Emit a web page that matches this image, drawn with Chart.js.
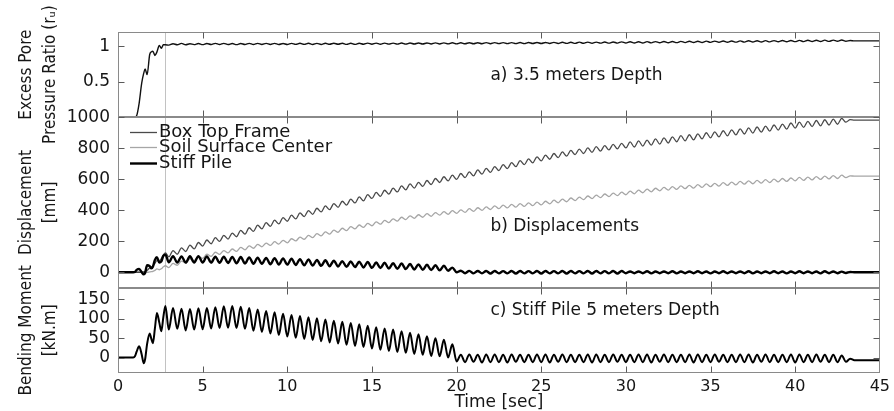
<!DOCTYPE html>
<html><head><meta charset="utf-8">
<script src="https://cdn.jsdelivr.net/npm/chart.js@4.4.1/dist/chart.umd.min.js"></script>
<style>html,body{margin:0;padding:0;background:#fff;}canvas{display:block;}</style>
</head><body>
<canvas id="c" width="894" height="411"></canvas>
<script>
// ---------- data ----------
const TIME = [
0,0.5,0.9,1,1.1,1.25,1.4,1.52,1.6,1.72,1.87,1.97,2.06,2.18,2.3,2.44,2.56,2.68,2.8,
3,3.25,3.5,3.75,4,4.25,4.5,4.75,5,5.25,5.5,5.75,6,6.25,6.5,6.75,7,7.25,7.5,7.75,
8,8.25,8.5,8.75,9,9.25,9.5,9.75,10,10.25,10.5,10.75,11,11.25,11.5,11.75,12,12.25,12.5,12.75,
13,13.25,13.5,13.75,14,14.25,14.5,14.75,15,15.25,15.5,15.75,16,16.25,16.5,16.75,17,17.25,17.5,17.75,
18,18.25,18.5,18.75,19,19.25,19.5,19.75,20,20.25,20.5,20.75,21,21.25,21.5,21.75,22,22.25,22.5,22.75,
23,23.25,23.5,23.75,24,24.25,24.5,24.75,25,25.25,25.5,25.75,26,26.25,26.5,26.75,27,27.25,27.5,27.75,
28,28.25,28.5,28.75,29,29.25,29.5,29.75,30,30.25,30.5,30.75,31,31.25,31.5,31.75,32,32.25,32.5,32.75,
33,33.25,33.5,33.75,34,34.25,34.5,34.75,35,35.25,35.5,35.75,36,36.25,36.5,36.75,37,37.25,37.5,37.75,
38,38.25,38.5,38.75,39,39.25,39.5,39.75,40,40.25,40.5,40.75,41,41.25,41.5,41.75,42,42.25,42.5,42.75,
43,43.25,43.5,43.75,44,44.25,44.5,44.75,45];

const PORE_RATIO = [
0,0,0,0,0.02,0.2,0.48,0.62,0.68,0.6,0.88,0.92,0.93,0.87,0.92,1.01,0.97,1.02,1.02,
1.015,1.035,1.02,1.04, 1.02,1.035,1.022,1.038, 1.022,1.038,1.024,1.04, 1.024,1.04,1.023,1.038, 1.022,1.038,1.024,1.04,
1.024,1.04,1.025,1.04, 1.025,1.04,1.024,1.039, 1.024,1.04,1.026,1.041, 1.026,1.041,1.025,1.04, 1.025,1.041,1.027,1.042,
1.027,1.042,1.026,1.041, 1.026,1.042,1.028,1.043, 1.028,1.043,1.027,1.043, 1.029,1.044,1.03,1.045, 1.03,1.045,1.031,1.046,
1.031,1.046,1.032,1.047, 1.032,1.047,1.033,1.048, 1.033,1.048,1.034,1.049, 1.034,1.049,1.035,1.05, 1.035,1.05,1.036,1.051,
1.036,1.051,1.037,1.052, 1.037,1.052,1.038,1.053, 1.038,1.053,1.039,1.054, 1.039,1.055,1.04,1.056, 1.04,1.057,1.041,1.058,
1.042,1.058,1.043,1.059, 1.043,1.06,1.044,1.061, 1.045,1.062,1.046,1.063, 1.046,1.064,1.047,1.065, 1.048,1.066,1.049,1.067,
1.05,1.068,1.051,1.069, 1.052,1.07,1.053,1.071, 1.054,1.072,1.055,1.073, 1.056,1.074,1.057,1.075, 1.058,1.076,1.059,1.077,
1.06,1.078,1.061,1.079, 1.062,1.08,1.063,1.081, 1.064,1.082,1.065,1.083, 1.066,1.084,1.067,1.085, 1.068,1.086,1.069,1.087,
1.07,1.08,1.075,1.075, 1.075,1.075,1.075,1.075, 1.075];

const BOX_TOP_FRAME = [
0,0,0,0,0,0,0,2,5,12,28,32,40,58,75,72,88,112,125,
99,140,116,157, 134,175,151,192, 169,208,184,223, 199,238,214,253, 229,270,246,287,
264,304,280,320, 296,336,312,353, 329,368,344,383, 359,398,374,413, 389,428,404,443,
419,458,433,472, 447,486,461,501, 476,515,490,529, 504,543,518,557, 532,570,543,580,
554,592,566,605, 579,616,589,626, 599,637,611,648, 622,660,633,670, 644,682,656,695,
669,707,681,720, 694,732,706,745, 719,756,729,766, 739,776,749,786, 759,795,766,802,
774,810,781,817, 789,825,796,832, 802,841,808,847, 814,853,820,860, 827,867,834,874,
842,881,848,887, 854,893,860,900, 867,906,873,913, 880,919,886,925, 892,931,898,937,
904,943,910,950, 917,956,923,963, 930,968,935,974, 940,979,945,984, 950,988,955,993,
968,985,982,982, 982,982,982,982, 982];

const SOIL_SURFACE_CENTER = [
0,0,0,0,0,0,0,0,0,0,2,4,6,12,22,16,22,35,42,
30,57,45,72, 60,87,75,102, 90,116,102,129, 115,140,125,150, 135,160,145,170,
155,180,164,188, 173,197,182,206, 190,216,202,227, 213,238,224,249, 235,261,246,272,
258,284,269,294, 280,305,290,315, 300,325,310,335, 320,345,330,355, 340,364,348,371,
355,378,361,385, 368,391,374,397, 380,403,386,410, 393,416,399,422, 405,428,410,433,
415,438,420,443, 425,448,430,453, 435,458,441,465, 448,472,455,479, 462,485,468,492,
475,498,481,505, 488,511,494,517, 500,523,506,530, 513,536,519,542, 525,547,530,553,
535,557,539,561, 543,565,547,570, 552,574,556,578, 560,582,564,586, 568,590,571,593,
575,597,579,601, 583,605,586,608, 590,612,593,614, 596,617,599,620, 602,624,605,626,
610,622,620,620, 620,620,620,620, 620];

const STIFF_PILE = [
0,0,0,2,15,22,0,-14,-5,45,40,25,35,80,97,62,70,105,114,
64,104,62,102, 62,103,63,104, 63,102,62,101, 61,100,60,99, 58,98,57,96,
55,94,54,93, 52,91,50,89, 49,87,47,85, 45,82,43,80, 41,77,39,75,
37,72,35,70, 33,68,31,66, 28,63,27,61, 24,58,22,56, 20,54,18,51,
16,48,14,45, 12,42,10,30, 0,10,-6,9, -7,8,-7,8, -8,8,-7,7,
-7,8,-8,8, -7,7,-7,8, -8,8,-7,7, -7,8,-8,8, -7,7,-7,8,
-8,8,-7,7, -7,8,-8,8, -6,5,-6,5, -6,6,-7,5, -6,5,-6,6,
-7,5,-6,5, -6,6,-6,5, -7,5,-6,6, -6,5,-6,5, -6,6,-7,5,
-6,5,-6,6, -6,5,-7,5, -6,6,-6,5, -6,5,-7,6, -6,5,-6,4,
-5,2,0,0, 0,0,0,0, 0];

const BENDING_MOMENT = [
0,0,0,3,15,29,8,-15,-5,35,62,48,37,75,115,90,68,105,133,
72,128,74,126, 70,125,72,127, 73,128,75,130, 76,132,77,133, 76,131,74,128,
69,124,66,120, 62,117,58,113, 54,110,51,107, 48,104,45,101, 42,98,39,95,
36,92,33,89, 30,86,27,82, 23,78,20,75, 17,72,14,68, 12,64,9,60,
7,55,4,50, 3,46,0,34, -10,7,-12,8, -11,7,-13,8, -12,8,-12,7,
-13,8,-11,7, -12,7,-12,8, -12,8,-13,7, -11,8,-12,7, -12,7,-12,8,
-13,8,-12,7, -12,8,-11,7, -12,7,-12,8, -12,8,-13,7, -11,8,-12,7,
-12,7,-12,8, -13,8,-12,7, -12,8,-11,7, -12,7,-12,8, -12,8,-13,7,
-11,8,-12,7, -12,7,-12,8, -13,8,-12,7, -12,8,-11,7, -12,7,-12,5,
-11,-3,-7,-7, -7,-7,-7,-7, -7];

const X_TICKS = [0,5,10,15,20,25,30,35,40,45];
const Y_TICKS_A = [0.5,1];
const Y_TICKS_B = [0,200,400,600,800,1000];
const Y_TICKS_C = [0,50,100,150];
const SERIES_NAMES = ['Box Top Frame','Soil Surface Center','Stiff Pile'];
const PANEL_NOTES = ['a) 3.5 meters Depth','b) Displacements','c) Stiff Pile 5 meters Depth'];
const Y_TITLES = [['Excess Pore','Pressure Ratio (r\u1D64)'],['Displacement','[mm]'],['Bending Moment','[kN.m]']];
const X_TITLE = 'Time [sec]';
const MARK_TIME = 2.8;

// ---------- styling ----------
const NARROW = "'Liberation Sans Narrow','DejaVu Sans Condensed',sans-serif";
const SANS = "'DejaVu Sans',sans-serif";
const INK = '#161616';

function points(values){ return TIME.map((t,i)=>({x:t,y:values[i]})); }
function fixedTicks(list){ return s => { s.ticks = list.map(v=>({value:v})); }; }
function yAxis(extra, title){
  return Object.assign({
    type:'linear', position:'left', stack:'panels', offset:false,
    grid:{display:false, drawTicks:false}, border:{display:false},
    ticks:{font:{family:SANS,size:17}, color:INK, padding:8, autoSkip:false, callback:v=>String(v)},
    title:{display:true, text:title, color:INK, font:{family:NARROW,size:17,lineHeight:1.38}, padding:{top:15,bottom:0}},
    afterFit: s => { s.width = 118; }
  }, extra);
}

const frame = {
  id:'frame',
  beforeDatasetsDraw(chart){
    const {ctx, chartArea, scales} = chart;
    const px = Math.round(scales.x.getPixelForValue(MARK_TIME)) + 0.5;
    ctx.save();
    ctx.strokeStyle = '#c2c2c2'; ctx.lineWidth = 1;
    ctx.beginPath(); ctx.moveTo(px, chartArea.top); ctx.lineTo(px, chartArea.bottom); ctx.stroke();
    ctx.restore();
  },
  afterDatasetsDraw(chart, args, opts){
    const {ctx, chartArea, scales} = chart;
    const L = Math.round(chartArea.left)+0.5, R = Math.round(chartArea.right)-0.5;
    ctx.save();
    ['ya','yb','yc'].forEach(id => {
      const s = scales[id];
      const T = Math.round(s.top)+0.5, B = Math.round(s.bottom)-0.5;
      ctx.strokeStyle = '#8a8a8a'; ctx.lineWidth = 1;
      ctx.strokeRect(L, T, R-L, B-T);
      ctx.strokeStyle = '#5a5a5a';
      ctx.beginPath();
      scales.x.ticks.forEach(tk => {
        if (tk.value <= scales.x.min || tk.value >= scales.x.max) return;
        const x = Math.round(scales.x.getPixelForValue(tk.value))+0.5;
        ctx.moveTo(x, T); ctx.lineTo(x, T+6);
        ctx.moveTo(x, B); ctx.lineTo(x, B-6);
      });
      s.ticks.forEach(tk => {
        const y = Math.round(s.getPixelForValue(tk.value))+0.5;
        ctx.moveTo(L, y); ctx.lineTo(L+6, y);
        ctx.moveTo(R, y); ctx.lineTo(R-6, y);
      });
      ctx.stroke();
    });
    // panel notes
    ctx.fillStyle = INK; ctx.font = '17px ' + SANS; ctx.textAlign = 'left'; ctx.textBaseline = 'middle';
    opts.notes.forEach((n,i) => {
      ctx.fillText(PANEL_NOTES[i], scales.x.getPixelForValue(n.x), scales[n.axis].getPixelForValue(n.y));
    });
    // legend inside panel b
    ctx.font = '18px ' + SANS;
    const top = scales.yb.top;
    const legendSets = chart.data.datasets.filter(d => d.yAxisID === 'yb').sort((a,b)=>a.legendRow-b.legendRow);
    legendSets.forEach((d,i) => {
      const y = Math.round(top + opts.legend.first + i*opts.legend.step) + 0.5;
      ctx.strokeStyle = d.borderColor; ctx.lineWidth = d.borderWidth;
      ctx.beginPath(); ctx.moveTo(chartArea.left + opts.legend.x0, y); ctx.lineTo(chartArea.left + opts.legend.x1, y); ctx.stroke();
      ctx.fillStyle = INK;
      ctx.fillText(d.label, chartArea.left + opts.legend.tx, y);
    });
    ctx.restore();
  }
};

const lineBase = {pointRadius:0, cubicInterpolationMode:'monotone', fill:false};

new Chart(document.getElementById('c'), {
  type:'line',
  data:{ datasets:[
    Object.assign({label:'Excess Pore Pressure Ratio', data:points(PORE_RATIO), yAxisID:'ya', borderColor:'#111', borderWidth:1.4, order:1}, lineBase),
    Object.assign({label:SERIES_NAMES[0], data:points(BOX_TOP_FRAME), yAxisID:'yb', borderColor:'#4a4a4a', borderWidth:1.3, order:2, legendRow:0}, lineBase),
    Object.assign({label:SERIES_NAMES[1], data:points(SOIL_SURFACE_CENTER), yAxisID:'yb', borderColor:'#a6a6a6', borderWidth:1.3, order:3, legendRow:1}, lineBase),
    Object.assign({label:SERIES_NAMES[2], data:points(STIFF_PILE), yAxisID:'yb', borderColor:'#000', borderWidth:2.4, order:1, legendRow:2}, lineBase),
    Object.assign({label:'Bending Moment', data:points(BENDING_MOMENT), yAxisID:'yc', borderColor:'#000', borderWidth:2, order:1}, lineBase)
  ]},
  options:{
    responsive:false, animation:false, devicePixelRatio:1, events:[],
    layout:{padding:{left:0, right:12, top:32, bottom:0}},
    plugins:{
      legend:{display:false}, tooltip:{enabled:false},
      frame:{
        notes:[{axis:'ya',x:22,y:0.585},{axis:'yb',x:22,y:292},{axis:'yc',x:22,y:122}],
        legend:{first:14.5, step:15.6, x0:12, x1:39, tx:41}
      }
    },
    scales:{
      x:{type:'linear', min:0, max:45, afterBuildTicks:fixedTicks(X_TICKS),
         grid:{display:false, drawTicks:false}, border:{display:false},
         ticks:{font:{family:SANS,size:16}, color:INK, padding:4, autoSkip:false, maxRotation:0, callback:v=>String(v)},
         title:{display:true, text:X_TITLE, color:INK, font:{family:SANS,size:17,lineHeight:1}, padding:{top:0,bottom:0}},
         afterFit: s => { s.height = 38; }},
      ya: yAxis({min:0, max:1.2, stackWeight:1, weight:3, afterBuildTicks:fixedTicks(Y_TICKS_A)}, Y_TITLES[0]),
      yb: yAxis({min:-100, max:1000, stackWeight:2, weight:2, afterBuildTicks:fixedTicks(Y_TICKS_B)}, Y_TITLES[1]),
      yc: yAxis({min:-40, max:180, stackWeight:1, weight:1, afterBuildTicks:fixedTicks(Y_TICKS_C)}, Y_TITLES[2])
    }
  },
  plugins:[frame]
});
</script>
</body></html>
